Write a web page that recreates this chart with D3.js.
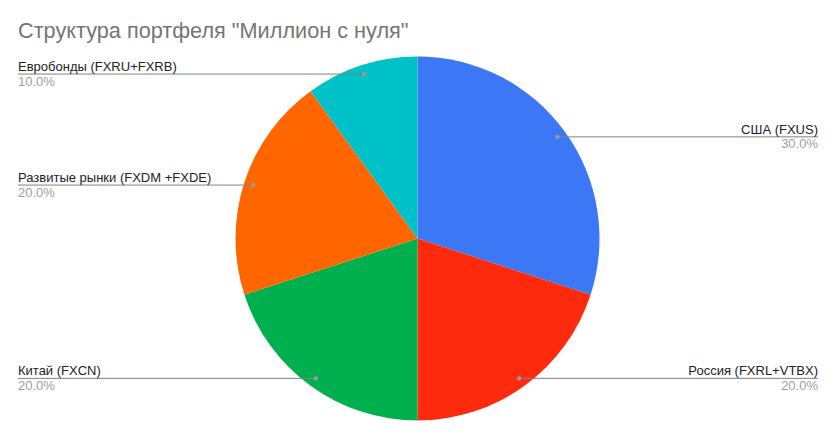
<!DOCTYPE html>
<html>
<head>
<meta charset="utf-8">
<script src="https://cdn.jsdelivr.net/npm/d3@7"></script>
<style>
  body { margin: 0; background: #fff; }
  text { font-family: "Liberation Sans", Arial, sans-serif; }
</style>
</head>
<body>
<div id="chart"></div>
<script>
// data
const categories = ['США (FXUS)', 'Россия (FXRL+VTBX)', 'Китай (FXCN)', 'Развитые рынки (FXDM +FXDE)', 'Евробонды (FXRU+FXRB)'];
const shares = [30, 20, 20, 20, 10];
const colors = ['#3c78f6', '#fe2a0e', '#00b04e', '#ff6600', '#00c0c8'];
const title = 'Структура портфеля "Миллион с нуля"';

const width = 838, height = 439;
const cx = 417.5, cy = 238.5, radius = 182;

const svg = d3.select('#chart').append('svg')
    .attr('width', width)
    .attr('height', height);

svg.append('text')
    .attr('x', 18)
    .attr('y', 38)
    .attr('fill', '#757575')
    .style('font-size', '21.7px')
    .text(title);

const pie = d3.pie().sort(null).value(d => d)(shares);
const arc = d3.arc().innerRadius(0).outerRadius(radius);

const g = svg.append('g').attr('transform', `translate(${cx},${cy})`);

g.selectAll('path')
    .data(pie)
    .join('path')
    .attr('d', arc)
    .attr('fill', (d, i) => colors[i]);

// labels: dot inside the slice, horizontal line out to the side
const dotR = radius * 0.95;
const total = d3.sum(shares);
const labels = svg.append('g');

pie.forEach((d, i) => {
    const a = (d.startAngle + d.endAngle) / 2;
    const px = cx + Math.sin(a) * dotR;
    const py = cy - Math.cos(a) * dotR;
    const right = px > cx;
    const edge = right ? 818 : 18;

    labels.append('line')
        .attr('x1', px).attr('y1', py)
        .attr('x2', edge).attr('y2', py)
        .attr('stroke', '#808080')
        .attr('stroke-width', 1);

    labels.append('circle')
        .attr('cx', px).attr('cy', py)
        .attr('r', 2.2)
        .attr('fill', '#999');

    labels.append('text')
        .attr('x', edge).attr('y', py - 3)
        .attr('text-anchor', right ? 'end' : 'start')
        .attr('fill', '#222')
        .style('font-size', '13px')
        .text(categories[i]);

    labels.append('text')
        .attr('x', edge).attr('y', py + 11.5)
        .attr('text-anchor', right ? 'end' : 'start')
        .attr('fill', '#9e9e9e')
        .style('font-size', '13px')
        .text((shares[i] / total * 100).toFixed(1) + '%');
});
</script>
</body>
</html>
